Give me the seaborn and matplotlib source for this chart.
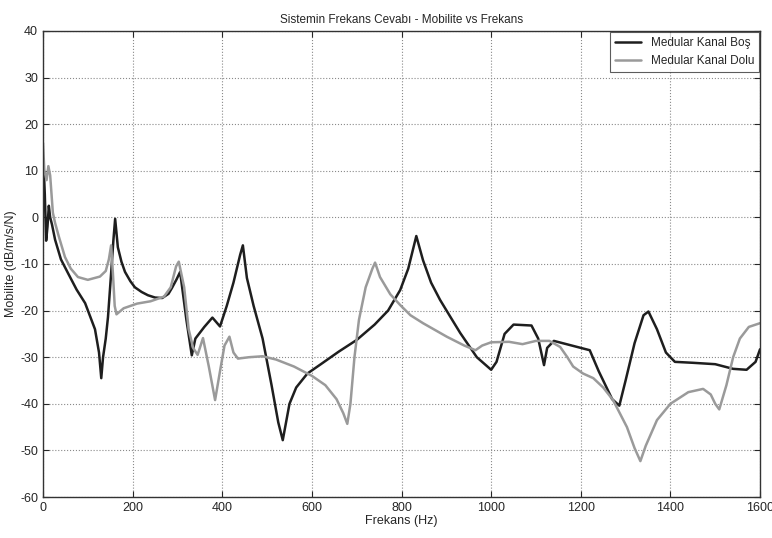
import numpy as np
import pandas as pd
import seaborn as sns
import matplotlib
matplotlib.use("Agg")
import matplotlib.pyplot as plt

# ── Data ──────────────────────────────────────────────────────────────────────
bos_freq = [1, 4, 7, 10, 13, 16, 20, 27, 40, 56, 75, 94, 116, 125, 130, 134, 140,
            145, 152, 157, 161, 167, 175, 183, 195, 205, 220, 234, 250, 266, 280,
            288, 298, 306, 320, 332, 340, 360, 378, 395, 410, 425, 440, 446, 455,
            470, 490, 510, 525, 535, 550, 565, 590, 620, 660, 700, 740, 770, 797,
            815, 833, 848, 866, 886, 910, 931, 968, 1000, 1012, 1030, 1050, 1090,
            1105, 1118, 1125, 1140, 1160, 1200, 1220, 1240, 1270, 1286, 1300, 1320,
            1340, 1351, 1370, 1390, 1410, 1450, 1500, 1540, 1570, 1590, 1600]
bos_val = [12, 5, -5, -2, 2.5, 0, -1.5, -4.8, -9, -12, -15.5, -18.4, -24, -29,
           -34.5, -30, -26, -21.4, -12, -5, -0.3, -6.4, -9.5, -11.7, -13.7, -15,
           -16, -16.7, -17.2, -17.3, -16.4, -15.1, -13.3, -11.7, -22, -29.6, -26,
           -23.5, -21.5, -23.4, -19, -14, -8, -6, -13, -19, -26, -36, -44, -47.8,
           -40, -36.5, -33.5, -31.5, -28.8, -26.3, -23, -20, -15.6, -11, -4, -9.2,
           -14, -17.7, -21.5, -24.8, -30, -32.7, -31, -25, -23, -23.2, -26, -31.7,
           -28, -26.5, -27, -28, -28.5, -33, -39, -40.4, -35, -27, -21, -20.2, -24,
           -29, -31, -31.2, -31.5, -32.5, -32.7, -31, -28.3]

dolu_freq = [0, 3, 8, 12, 16, 22, 27, 35, 49, 62, 78, 100, 127, 140, 147, 152, 156,
             160, 164, 180, 210, 240, 270, 285, 297, 303, 315, 325, 335, 345, 357,
             370, 384, 395, 405, 416, 425, 435, 460, 490, 520, 560, 600, 630, 655,
             670, 679, 686, 695, 705, 720, 735, 741, 752, 775, 797, 820, 848, 901,
             940, 965, 980, 1000, 1040, 1070, 1100, 1130, 1154, 1170, 1183, 1205,
             1228, 1250, 1272, 1303, 1320, 1333, 1345, 1370, 1400, 1440, 1473, 1490,
             1500, 1509, 1525, 1540, 1555, 1575, 1600]
dolu_val = [16, 10, 8, 11, 9, 1, -1.2, -4, -8.5, -11, -12.8, -13.4, -12.7, -11.5,
            -9, -6, -12, -19, -20.8, -19.5, -18.5, -18, -17, -15, -10.5, -9.5, -15,
            -24, -28, -29.5, -25.9, -32, -39.2, -33, -27.5, -25.6, -29, -30.3, -30,
            -29.8, -30.5, -32, -34, -36, -39, -42, -44.3, -40, -30, -22, -15, -11,
            -9.7, -12.8, -16.5, -18.8, -21, -22.7, -25.6, -27.5, -28.5, -27.5,
            -26.8, -26.7, -27.2, -26.5, -26.5, -27.8, -30, -32, -33.5, -34.5, -36.5,
            -39.2, -45, -49.5, -52.3, -49, -43.5, -40, -37.5, -36.8, -38, -40, -41.2,
            -36, -30, -26, -23.5, -22.7]

labels = ["Medular Kanal Boş", "Medular Kanal Dolu"]
x_ticks = list(range(0, 1601, 200))
y_ticks = list(range(-60, 41, 10))

df = pd.concat([
    pd.DataFrame({"f": bos_freq, "v": bos_val, "seri": labels[0]}),
    pd.DataFrame({"f": dolu_freq, "v": dolu_val, "seri": labels[1]}),
])

# ── Plot ─────────────────────────────────────────────────────────────────────
sns.set_style("ticks")
plt.rcParams["font.family"] = ["Liberation Sans", "DejaVu Sans"]
plt.rcParams["axes.unicode_minus"] = False

fig = plt.figure(figsize=(7.72, 5.38), dpi=100)
ax = fig.add_axes([0.0557, 0.0762, 0.9288, 0.8662])

sns.lineplot(data=df, x="f", y="v", hue="seri", sort=False, estimator=None,
             palette={labels[0]: "#1e1e1e", labels[1]: "#9a9a9a"},
             linewidth=1.8, ax=ax)

ax.set_xlim(0, 1600)
ax.set_ylim(-60, 40)
ax.set_xticks(x_ticks)
ax.set_yticks(y_ticks)
ax.grid(True, linestyle=":", color="#8a8a8a", linewidth=0.8)
ax.tick_params(direction="in", top=True, right=True, labelsize=9, length=4)
for s in ax.spines.values():
    s.set_color("#333333")
    s.set_linewidth(1.0)

ax.set_title("Sistemin Frekans Cevabı - Mobilite vs Frekans", fontsize=8.5, pad=6)
ax.set_xlabel("Frekans (Hz)", fontsize=9, labelpad=1)
ax.set_ylabel("Mobilite (dB/m/s/N)", fontsize=9, labelpad=2)

leg = ax.legend(loc="upper right", fontsize=8.5, frameon=True, fancybox=False,
                borderaxespad=0.1, handlelength=2.2, edgecolor="#333333")
leg.get_frame().set_linewidth(0.8)

fig.savefig("out.png", dpi=100)
